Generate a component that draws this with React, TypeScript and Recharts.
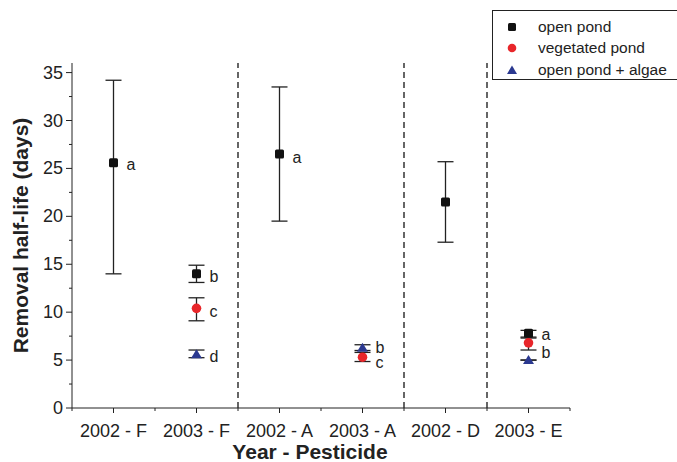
import React from 'react';
import { ScatterChart, Scatter, XAxis, YAxis, ErrorBar, ReferenceLine, Legend } from 'recharts';

const categories = ['2002 - F', '2003 - F', '2002 - A', '2003 - A', '2002 - D', '2003 - E'];

// x = category position (1..6), y = half-life, lo/hi = error bar ends
const openPond = [
  { x: 1, y: 25.6, lo: 14.0, hi: 34.2 },
  { x: 2, y: 14.0, lo: 13.1, hi: 14.9 },
  { x: 3, y: 26.5, lo: 19.5, hi: 33.5 },
  { x: 5, y: 21.5, lo: 17.3, hi: 25.7 },
  { x: 6, y: 7.8, lo: 7.4, hi: 8.1 },
];
const vegetatedPond = [
  { x: 2, y: 10.4, lo: 9.1, hi: 11.5 },
  { x: 4, y: 5.3, lo: 4.85, hi: 5.8 },
  { x: 6, y: 6.8, lo: 6.05, hi: 7.3 },
];
const algaePond = [
  { x: 2, y: 5.6, lo: 5.25, hi: 6.05 },
  { x: 4, y: 6.3, lo: 6.0, hi: 6.6 },
  { x: 6, y: 5.0, lo: 5.0, hi: 5.0 },
];

// significance letters, placed beside the points
const letters = [
  { x: 1, y: 25.4, letter: 'a' },
  { x: 2, y: 13.7, letter: 'b' },
  { x: 2, y: 10.0, letter: 'c' },
  { x: 2, y: 5.3, letter: 'd' },
  { x: 3, y: 26.1, letter: 'a' },
  { x: 4, y: 6.3, letter: 'b' },
  { x: 4, y: 4.7, letter: 'c' },
  { x: 6, y: 7.6, letter: 'a' },
  { x: 6, y: 5.75, letter: 'b' },
];

const separators = [2.5, 4.5, 5.5];
const xTicks = [0.5, 1, 1.5, 2, 2.5, 3, 3.5, 4, 4.5, 5, 5.5, 6, 6.5];
const yTicks = [0, 2.5, 5, 7.5, 10, 12.5, 15, 17.5, 20, 22.5, 25, 27.5, 30, 32.5, 35];

const withErr = (arr: { x: number; y: number; lo: number; hi: number }[]) =>
  arr.map(d => ({ ...d, err: [d.y - d.lo, d.hi - d.y] }));

const FONT = '"Liberation Sans", Arial, Helvetica, sans-serif';
const INK = '#222';
const RED = '#e8262a';
const BLUE = '#2b3990';

const Square = ({ cx, cy }: any) => <rect x={cx - 4.5} y={cy - 4.5} width={9} height={9} rx={1.5} fill="#111" />;
const Dot = ({ cx, cy }: any) => <circle cx={cx} cy={cy} r={4.8} fill={RED} />;
const Tri = ({ cx, cy }: any) => (
  <path d={`M${cx},${cy - 5} L${cx + 5.5},${cy + 4} L${cx - 5.5},${cy + 4} Z`} fill={BLUE} />
);
const Letter = ({ cx, cy, payload }: any) => (
  <text x={cx + 13} y={cy + 5} fontSize={16} fill={INK} fontFamily={FONT}>{payload.letter}</text>
);

const YTick = ({ x, y, payload }: any) => {
  const major = payload.value % 5 === 0;
  return (
    <g>
      <line x1={x - (major ? 6 : 3)} x2={x} y1={y} y2={y} stroke={INK} />
      {major && (
        <text x={x - 9} y={y + 6} textAnchor="end" fontSize={18} fill={INK} fontFamily={FONT}>
          {payload.value}
        </text>
      )}
    </g>
  );
};

const XTick = ({ x, y, payload }: any) => {
  const major = Number.isInteger(payload.value);
  return (
    <g>
      <line x1={x} x2={x} y1={y} y2={y + (major ? 5 : 3)} stroke={INK} />
      {major && (
        <text x={x} y={y + 29} textAnchor="middle" fontSize={18} fill={INK} fontFamily={FONT}>
          {categories[payload.value - 1]}
        </text>
      )}
    </g>
  );
};

const YLabel = ({ viewBox }: any) => {
  const cy = viewBox.y + viewBox.height / 2;
  return (
    <text transform={`translate(28,${cy}) rotate(-90)`} textAnchor="middle" fontSize={21} fontWeight="bold" fill={INK} fontFamily={FONT}>
      Removal half-life (days)
    </text>
  );
};

const XLabel = ({ viewBox }: any) => (
  <text x={viewBox.x + viewBox.width / 2 - 11} y={459} textAnchor="middle" fontSize={21} fontWeight="bold" fill={INK} fontFamily={FONT}>
    Year - Pesticide
  </text>
);

const legendItems = [
  { name: 'open pond', Marker: () => <rect x={6} y={6} width={8} height={8} rx={1.5} fill="#111" /> },
  { name: 'vegetated pond', Marker: () => <circle cx={10} cy={10} r={4.3} fill={RED} /> },
  { name: 'open pond + algae', Marker: () => <path d="M10,5.5 L15,14 L5,14 Z" fill={BLUE} /> },
];

const LegendBox = () => (
  <div style={{ border: `1.5px solid ${INK}`, width: 190, height: 70, boxSizing: 'border-box', background: '#fff', paddingTop: 5 }}>
    {legendItems.map(({ name, Marker }) => (
      <div key={name} style={{ display: 'flex', alignItems: 'center', height: 21.5 }}>
        <svg width={20} height={20} style={{ marginLeft: 9 }}><Marker /></svg>
        <span style={{ marginLeft: 16, fontSize: 15.5, color: INK, fontFamily: FONT }}>{name}</span>
      </div>
    ))}
  </div>
);

export default function App() {
  return (
    <div style={{ position: 'absolute', left: 0, top: 0, width: 677, height: 462, background: '#fff', overflow: 'hidden' }}>
      <ScatterChart width={677} height={462} margin={{ top: 63, right: 107, bottom: 24, left: 0 }}>
        <XAxis
          type="number"
          dataKey="x"
          domain={[0.5, 6.5]}
          ticks={xTicks}
          interval={0}
          height={30}
          stroke={INK}
          tickSize={0}
          tickMargin={0}
          tick={<XTick />}
          label={<XLabel />}
        />
        <YAxis
          type="number"
          dataKey="y"
          domain={[0, 36]}
          ticks={yTicks}
          interval={0}
          width={72}
          stroke={INK}
          tickSize={0}
          tickMargin={0}
          tick={<YTick />}
          label={<YLabel />}
        />
        {separators.map(s => (
          <ReferenceLine key={s} x={s} stroke="#000" strokeWidth={1.2} strokeDasharray="6 4" />
        ))}
        <Scatter name="open pond" data={withErr(openPond)} shape={<Square />} isAnimationActive={false}>
          <ErrorBar dataKey="err" direction="y" width={8} stroke={INK} strokeWidth={1.3} />
        </Scatter>
        <Scatter name="vegetated pond" data={withErr(vegetatedPond)} shape={<Dot />} isAnimationActive={false}>
          <ErrorBar dataKey="err" direction="y" width={8} stroke={INK} strokeWidth={1.3} />
        </Scatter>
        <Scatter name="open pond + algae" data={withErr(algaePond)} shape={<Tri />} isAnimationActive={false}>
          <ErrorBar dataKey="err" direction="y" width={8} stroke={INK} strokeWidth={1.3} />
        </Scatter>
        <Scatter name="letters" data={letters} shape={<Letter />} legendType="none" isAnimationActive={false} />
        <Legend
          layout="vertical"
          align="center"
          verticalAlign="middle"
          wrapperStyle={{ left: 492, top: 10, width: 190 }}
          content={<LegendBox />}
        />
      </ScatterChart>
    </div>
  );
}
